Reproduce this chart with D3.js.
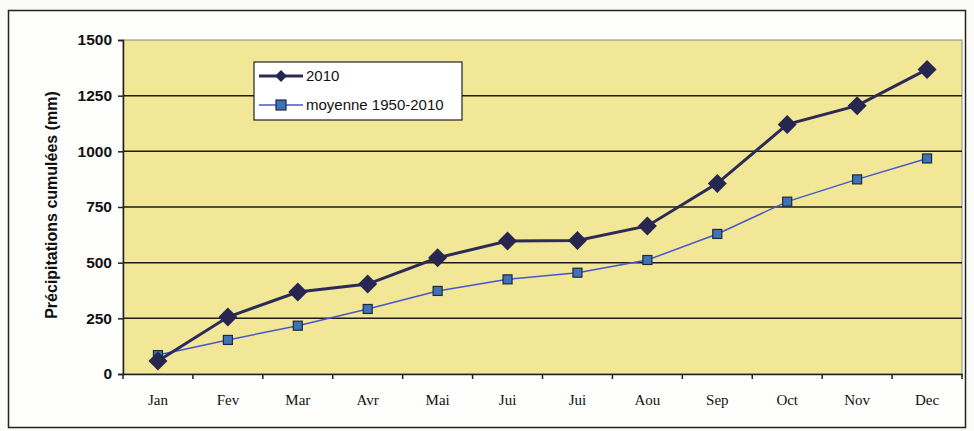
<!DOCTYPE html>
<html>
<head>
<meta charset="utf-8">
<script src="https://cdn.jsdelivr.net/npm/d3@7"></script>
<style>
  body { margin: 0; background: #fbfbf7; }
  svg { display: block; }
</style>
</head>
<body>
<div id="chart"></div>
<script>
var months = ["Jan", "Fev", "Mar", "Avr", "Mai", "Jui", "Jui", "Aou", "Sep", "Oct", "Nov", "Dec"];
var pluie2010 = [58, 256, 368, 404, 522, 597, 600, 665, 856, 1121, 1205, 1368];
var moyenne = [85, 153, 217, 292, 373, 425, 455, 512, 629, 774, 874, 968];
var yTicks = [0, 250, 500, 750, 1000, 1250, 1500];
var seriesNames = ["2010", "moyenne 1950-2010"];

var width = 974, height = 431;
var margin = { left: 123, right: 12, top: 40, bottom: 57 };

var svg = d3.select("#chart").append("svg")
    .attr("width", width)
    .attr("height", height);

// outer frame
svg.append("rect")
    .attr("x", 8.5).attr("y", 10.5)
    .attr("width", 957).attr("height", 417)
    .attr("fill", "#fefefc")
    .attr("stroke", "#222").attr("stroke-width", 1.5);

var x = d3.scaleBand()
    .domain(d3.range(months.length))
    .range([margin.left, width - margin.right]);
var y = d3.scaleLinear()
    .domain([0, 1500])
    .range([height - margin.bottom, margin.top]);

// plot area
svg.append("rect")
    .attr("x", x.range()[0]).attr("y", y(1500))
    .attr("width", x.range()[1] - x.range()[0])
    .attr("height", y(0) - y(1500))
    .attr("fill", "#f1e797")
    .attr("stroke", "#8a8a80").attr("stroke-width", 1);

// grid lines
svg.append("g")
    .selectAll("line")
    .data(yTicks.filter(d => d > 0 && d < 1500))
    .enter().append("line")
    .attr("x1", x.range()[0]).attr("x2", x.range()[1])
    .attr("y1", d => y(d)).attr("y2", d => y(d))
    .attr("stroke", "#1c1c14").attr("stroke-width", 1.5);

// y axis
var yAxis = svg.append("g")
    .attr("transform", "translate(" + x.range()[0] + ",0)")
    .call(d3.axisLeft(y).tickValues(yTicks).tickFormat(d3.format("d")).tickSize(5).tickPadding(6));
yAxis.select(".domain").attr("stroke", "#222").attr("stroke-width", 1.5);
yAxis.selectAll(".tick line").attr("stroke", "#222").attr("stroke-width", 1.5);
yAxis.selectAll("text")
    .attr("fill", "#111")
    .style("font", "bold 15.5px 'Liberation Sans', Arial, sans-serif");

// x axis
var xAxis = svg.append("g")
    .attr("transform", "translate(0," + y(0) + ")")
    .call(d3.axisBottom(x).tickFormat(i => months[i]).tickSize(0).tickPadding(20));
xAxis.select(".domain").attr("stroke", "#222").attr("stroke-width", 1.5);
xAxis.selectAll("text")
    .attr("fill", "#111")
    .style("font", "15px 'Liberation Serif', 'Times New Roman', serif");
// ticks between categories
xAxis.selectAll(".sep")
    .data(d3.range(months.length + 1))
    .enter().append("line")
    .attr("class", "sep")
    .attr("x1", i => x.range()[0] + i * x.step())
    .attr("x2", i => x.range()[0] + i * x.step())
    .attr("y1", 0).attr("y2", 5)
    .attr("stroke", "#222").attr("stroke-width", 1.5);

// axis title
svg.append("text")
    .attr("transform", "translate(57," + (y(750) - 2) + ") rotate(-90)")
    .attr("text-anchor", "middle")
    .attr("fill", "#111")
    .style("font", "bold 16px 'Liberation Sans', Arial, sans-serif")
    .text("Précipitations cumulées (mm)");

var cx = i => x(i) + x.bandwidth() / 2;
var line = d3.line()
    .x((d, i) => cx(i))
    .y(d => y(d));

// moyenne series
svg.append("path")
    .datum(moyenne)
    .attr("d", line)
    .attr("fill", "none")
    .attr("stroke", "#4856cc").attr("stroke-width", 1.5);
svg.append("g")
    .selectAll("rect")
    .data(moyenne)
    .enter().append("rect")
    .attr("x", (d, i) => cx(i) - 4.5).attr("y", d => y(d) - 4.5)
    .attr("width", 9).attr("height", 9)
    .attr("fill", "#3f73b8")
    .attr("stroke", "#202840").attr("stroke-width", 1.2);

// 2010 series
var diamond = d3.symbol().type(d3.symbolDiamond2).size(230);
svg.append("path")
    .datum(pluie2010)
    .attr("d", line)
    .attr("fill", "none")
    .attr("stroke", "#2c2b58").attr("stroke-width", 3);
svg.append("g")
    .selectAll("path")
    .data(pluie2010)
    .enter().append("path")
    .attr("transform", (d, i) => "translate(" + cx(i) + "," + y(d) + ")")
    .attr("d", diamond)
    .attr("fill", "#262650");

// legend
var legend = svg.append("g").attr("transform", "translate(254,62)");
legend.append("rect")
    .attr("width", 208).attr("height", 58)
    .attr("fill", "#ffffff")
    .attr("stroke", "#222").attr("stroke-width", 1.2);
var leg = legend.selectAll(".item")
    .data(seriesNames)
    .enter().append("g")
    .attr("class", "item")
    .attr("transform", (d, i) => "translate(0," + (14 + i * 29) + ")");
leg.append("line")
    .attr("x1", 5).attr("x2", 49)
    .attr("stroke", (d, i) => i == 0 ? "#2c2b58" : "#4856cc")
    .attr("stroke-width", (d, i) => i == 0 ? 3 : 1.5);
leg.filter((d, i) => i == 0).append("path")
    .attr("transform", "translate(27,0)")
    .attr("d", d3.symbol().type(d3.symbolDiamond2).size(90))
    .attr("fill", "#262650");
leg.filter((d, i) => i == 1).append("rect")
    .attr("x", 22).attr("y", -5).attr("width", 10).attr("height", 10)
    .attr("fill", "#3f73b8").attr("stroke", "#202840").attr("stroke-width", 1.2);
leg.append("text")
    .attr("x", 52).attr("dy", "0.35em")
    .attr("fill", "#111")
    .style("font", "15px 'Liberation Sans', Arial, sans-serif")
    .text(d => d);
</script>
</body>
</html>
